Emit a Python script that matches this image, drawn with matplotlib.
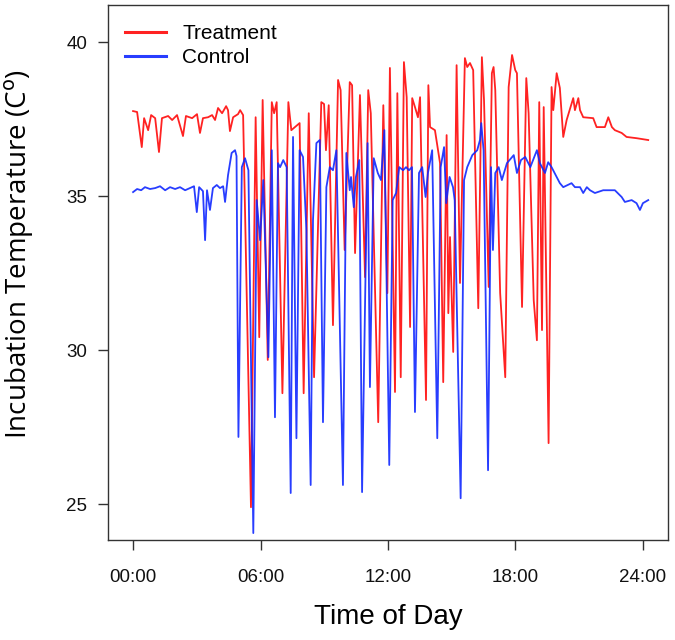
import matplotlib.pyplot as plt

# treatment nest (red)
treat_t = [0.00, 0.19, 0.41, 0.52, 0.71, 0.85, 1.04, 1.22, 1.36, 1.65, 1.84, 2.07, 2.35, 2.49,
           2.78, 3.01, 3.15, 3.29, 3.53, 3.72, 3.86, 4.00, 4.19, 4.38, 4.47, 4.56, 4.71, 4.94,
           5.04, 5.18, 5.55, 5.77, 5.94, 6.10, 6.34, 6.53, 6.64, 6.76, 7.03, 7.31, 7.45, 7.62,
           7.84, 8.03, 8.27, 8.52, 8.86, 8.99, 9.08, 9.21, 9.41, 9.65, 9.77, 9.96, 10.20, 10.31,
           10.45, 10.68, 10.92, 11.07, 11.19, 11.54, 11.78, 11.97, 12.09, 12.33, 12.44, 12.60,
           12.75, 12.88, 13.04, 13.14, 13.27, 13.41, 13.51, 13.79, 13.90, 13.98, 14.21, 14.45,
           14.60, 14.76, 14.84, 14.92, 15.07, 15.23, 15.39, 15.62, 15.73, 15.86, 16.01, 16.25,
           16.42, 16.52, 16.74, 16.89, 16.97, 17.05, 17.28, 17.52, 17.68, 17.84, 17.99, 18.07,
           18.31, 18.51, 18.62, 18.86, 19.01, 19.12, 19.25, 19.33, 19.56, 19.70, 19.78, 19.94,
           20.09, 20.25, 20.41, 20.72, 20.80, 20.96, 21.04, 21.19, 21.66, 21.82, 22.21, 22.37,
           22.54, 22.68, 23.00, 23.23, 23.70, 24.25]
treat_v = [37.76, 37.73, 36.59, 37.53, 37.14, 37.63, 37.53, 36.43, 37.53, 37.60, 37.47, 37.63, 36.95, 37.60,
           37.53, 37.66, 37.05, 37.53, 37.56, 37.63, 37.47, 37.86, 37.69, 37.92, 37.79, 37.11, 37.56, 37.66,
           37.79, 37.63, 24.90, 37.56, 30.42, 38.12, 29.68, 38.05, 37.69, 38.05, 28.60, 38.05, 37.14, 37.24,
           37.37, 28.60, 37.69, 29.12, 38.05, 37.99, 36.49, 37.95, 30.81, 38.77, 38.44, 33.25, 38.70, 38.60,
           33.15, 38.28, 32.37, 38.44, 37.69, 27.66, 37.95, 31.85, 39.16, 28.64, 38.34, 29.12,
           39.35, 38.21, 30.75, 38.18, 37.89, 37.56, 38.21, 28.38, 38.60, 37.24, 37.14, 36.07,
           28.96, 36.98, 31.20, 33.67, 29.94, 39.25, 32.18, 39.48, 39.19, 39.32, 39.09, 31.36,
           39.51, 38.12, 32.05, 38.99, 39.19, 38.44, 31.85, 29.12, 38.54, 39.58, 39.09, 38.99,
           31.40, 38.83, 37.69, 31.62, 30.32, 38.05, 30.65, 37.89, 26.98, 38.54, 37.79, 38.99,
           38.51, 36.92, 37.47, 38.18, 37.79, 38.18, 37.79, 37.56, 37.53, 37.24, 37.24, 37.56,
           37.24, 37.14, 37.05, 36.92, 36.88, 36.82]

# control nest (blue)
ctrl_t = [0.00, 0.19, 0.38, 0.56, 0.80, 1.04, 1.27, 1.51, 1.74, 1.98, 2.21, 2.45, 2.68, 2.87,
          3.00, 3.11, 3.29, 3.39, 3.48, 3.62, 3.76, 3.94, 4.09, 4.24, 4.33, 4.47, 4.64, 4.80,
          4.87, 4.96, 5.12, 5.27, 5.43, 5.66, 5.82, 5.98, 6.13, 6.37, 6.53, 6.68, 6.82, 6.92,
          7.07, 7.23, 7.42, 7.53, 7.69, 7.84, 8.00, 8.16, 8.36, 8.47, 8.63, 8.79, 8.94, 9.10,
          9.26, 9.41, 9.57, 9.88, 10.04, 10.20, 10.26, 10.39, 10.49, 10.65, 10.78, 11.04, 11.15,
          11.33, 11.52, 11.67, 11.83, 12.06, 12.22, 12.38, 12.53, 12.71, 12.85, 12.99, 13.13,
          13.27, 13.46, 13.61, 13.77, 13.88, 14.08, 14.32, 14.48, 14.64, 14.74, 14.90, 15.06,
          15.14, 15.42, 15.58, 15.73, 15.97, 16.20, 16.33, 16.39, 16.50, 16.71, 16.85, 16.94,
          17.05, 17.21, 17.36, 17.60, 17.92, 18.07, 18.26, 18.46, 18.70, 19.01, 19.15, 19.39,
          19.54, 19.70, 20.09, 20.25, 20.64, 20.80, 21.04, 21.19, 21.36, 21.51, 21.74, 22.13,
          22.68, 23.00, 23.15, 23.47, 23.70, 23.86, 24.00, 24.25]
ctrl_v = [35.13, 35.23, 35.19, 35.29, 35.23, 35.26, 35.32, 35.19, 35.29, 35.23, 35.29, 35.19, 35.26, 35.32,
          34.48, 35.29, 35.16, 33.57, 35.19, 34.55, 35.26, 35.36, 35.26, 35.32, 34.81, 35.68, 36.40, 36.49,
          36.30, 27.18, 35.94, 36.23, 35.84, 24.06, 34.87, 33.57, 35.52, 29.77, 36.49, 27.82, 36.07, 35.94,
          36.17, 35.94, 25.36, 36.92, 27.14, 36.49, 36.27, 33.90, 25.62, 34.22, 36.72, 36.82, 27.66, 35.29,
          35.94, 35.84, 36.49, 25.62, 36.40, 35.19, 35.62, 34.64, 35.62, 36.17, 25.39, 36.72, 28.80,
          36.23, 35.75, 35.52, 37.14, 26.27, 34.87, 35.10, 35.94, 35.84, 35.94, 35.84, 35.94,
          27.99, 35.75, 35.94, 34.97, 35.75, 36.49, 27.14, 35.94, 36.59, 34.77, 35.62, 35.29,
          34.87, 25.19, 35.52, 35.94, 36.33, 36.49, 36.82, 37.37, 36.49, 26.10, 35.94, 33.25,
          35.75, 35.94, 35.52, 36.07, 36.33, 35.75, 36.17, 36.27, 35.94, 36.49, 36.07, 35.75,
          36.10, 35.94, 35.42, 35.29, 35.42, 35.29, 35.29, 35.10, 35.29, 35.19, 35.10, 35.19,
          35.19, 34.97, 34.81, 34.87, 34.77, 34.55, 34.77, 34.87]

hour_ticks = [0, 6, 12, 18, 24]
hour_labels = ["00:00", "06:00", "12:00", "18:00", "24:00"]
temp_ticks = [25, 30, 35, 40]

plt.rcParams['font.family'] = ['Liberation Sans', 'DejaVu Sans']

fig = plt.figure(figsize=(6.75, 6.4), dpi=100)
ax = fig.add_axes([0.16, 0.156, 0.8296, 0.836])

ax.plot(treat_t, treat_v, color='#ff0a0a', lw=1.3, alpha=0.9, label='Treatment')
ax.plot(ctrl_t, ctrl_v, color='#1028ff', lw=1.3, alpha=0.9, label='Control')

ax.set_xlim(-1.18, 25.18)
ax.set_ylim(23.83, 41.2)
ax.set_xticks(hour_ticks)
ax.set_xticklabels(hour_labels)
ax.set_yticks(temp_ticks)
ax.tick_params(direction='out', length=7, width=1, colors='#333333', labelcolor='#111111',
               labelsize=13.5)
ax.tick_params(axis='x', pad=14)
ax.tick_params(axis='y', pad=8)
for s in ax.spines.values():
    s.set_color('#333333')
    s.set_linewidth(1)

ax.set_xlabel("Time of Day", fontsize=20, labelpad=13)
ax.set_ylabel("Incubation Temperature (C$^{\\mathrm{o}}$)", fontsize=20, family='Open Sans')
ax.yaxis.set_label_coords(-0.128, 0.535)

leg = ax.legend(loc='upper left', frameon=False, fontsize=15, handlelength=2.0,
                handletextpad=0.75, borderaxespad=0.0, labelspacing=0.25,
                bbox_to_anchor=(0.015, 0.98))
for line in leg.get_lines():
    line.set_linewidth(2.2)

fig.savefig("out.png", dpi=100)
